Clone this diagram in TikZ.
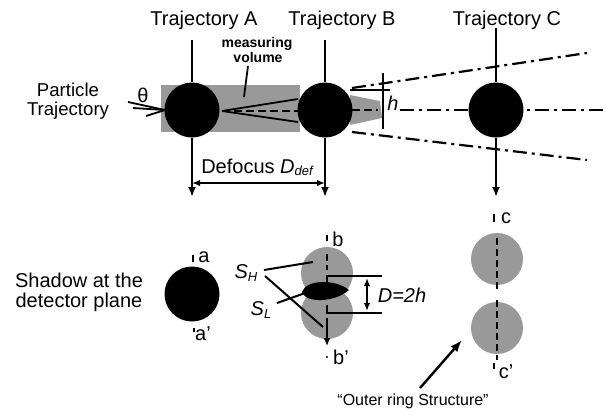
\documentclass[tikz,border=0pt]{standalone}
\usepackage{fontspec}
\setmainfont{Liberation Sans}
\usetikzlibrary{arrows.meta}
\begin{document}
\begin{tikzpicture}[x=0.5pt,y=-0.5pt,
  ax/.style={line width=1pt},
  axarrow/.style={line width=1pt,-{Latex[length=5pt,width=4pt]}},
  dim/.style={line width=0.9pt,{Latex[length=4pt,width=3.2pt]}-{Latex[length=4pt,width=3.2pt]}},
  ball/.style={circle,fill=black,inner sep=0pt,minimum size=27.5pt},
  halo/.style={fill=black!40},
  dashdot/.style={line width=1.1pt,dash pattern=on 7pt off 2.5pt on 1.5pt off 2.5pt},
  shadowaxis/.style={line width=1.4pt,dash pattern=on 3.5pt off 2pt},
  ray/.style={line width=0.9pt},
  big/.style={font=\fontsize{10}{11}\selectfont,inner sep=0pt},
  mid/.style={font=\fontsize{9.3}{10}\selectfont,inner sep=0pt},
  small/.style={font=\fontsize{8}{9}\selectfont,inner sep=0pt},
  tiny/.style={font=\bfseries\fontsize{7}{8}\selectfont,inner sep=0pt},
  tick/.style={line width=0.8pt},
]
\useasboundingbox (0,0) rectangle (605,413);

% ---------- measuring volume (dotted band) ----------
\fill[halo] (161,85) rectangle (300,132);
\fill[halo] (350,95) -- (380,101) -- (382,118) -- (350,125) -- cycle;

% ---------- incoming particle rays ----------
\coordinate (inA) at (165,110);
\draw[ray] (128,102) -- (inA);
\draw[ray] (133,108) -- (inA);
\draw[ray] (146,116) -- (inA);

% ---------- rays between A and B ----------
\coordinate (outA) at (222,111);
\draw[ray] (outA) -- (298,99);
\draw[ray,dash pattern=on 4pt off 2pt] (outA) -- (298,111);
\draw[ray] (outA) -- (298,122);
\draw[ray,dash pattern=on 4pt off 2pt] (352,110) -- (378,110);

% ---------- particles on the three trajectories ----------
\node[ball] (A) at (192,110) {};
\node[ball] (B) at (325,110) {};
\node[ball] (C) at (496,110) {};

% ---------- spreading beam beyond B ----------
\coordinate (bt) at (352,88);
\coordinate (bb) at (352,132);
\draw[dashdot] (bt) -- (587,53);
\draw[dashdot] (bb) -- (587,160);
\draw[dashdot] (400,110) -- (605,110);
\draw[ax] (350,90) -- (390,90);
\draw[ax] (383,73) -- (383,129);
\node[big,font=\fontsize{10}{11}\selectfont\itshape] (h) at (393,103) {h};

% ---------- trajectory axes ----------
\node[big,anchor=base] (tA) at (204,25) {Trajectory A};
\node[big,anchor=base] (tB) at (342,25) {Trajectory B};
\node[big,anchor=base] (tC) at (507,25) {Trajectory C};
\draw[ax] (192,40) -- (A.north);
\draw[axarrow] (A.south) -- (192,197);
\draw[ax] (325,40) -- (B.north);
\draw[axarrow] (B.south) -- (325,197);
\draw[ax] (496,28) -- (C.north);
\draw[axarrow] (C.south) -- (496,197);

% ---------- labels of the upper part ----------
\node[mid,anchor=base] (p1) at (68,96) {Particle};
\node[mid,anchor=base] (p2) at (68,115) {Trajectory};
\node[big] (theta) at (143,95) {θ};
\node[tiny,anchor=base] (mv1) at (257,47) {measuring};
\node[tiny,anchor=base] (mv2) at (258,62) {volume};
\draw[ray] (248,66) -- (244,97);

\draw[dim] (192,183) -- (325,183);
\node[big,anchor=base] (def) at (257,173)
  {Defocus \textit{D}\raisebox{-0.2ex}{\fontsize{6.5}{7}\selectfont\itshape def}};

% ---------- shadows at the detector plane ----------
\node[big,anchor=base] (s1) at (79,287) {Shadow at the};
\node[big,anchor=base] (s2) at (79,307) {detector plane};

% shadow of A
\node[ball] (sa) at (192,294) {};
\draw[tick] (193,255) -- (193,262);
\node[big] (la) at (204,257) {a};
\draw[tick] (194,328) -- (194,332);
\node[big] (la2) at (203,334) {a'};

% shadow of B
\fill[halo] (327,273) circle[radius=26];
\fill[halo] (327,313) circle[radius=26];
\fill[black] (302,292) .. controls (306,279) and (336,279) .. (349,290)
             .. controls (336,302) and (306,304) .. (302,292) -- cycle;
\draw[tick] (327,235) -- (327,241);
\node[big] (lb) at (338,239) {b};
\draw[shadowaxis] (327,254) -- (327,270);
\draw[line width=1.1pt,-{Latex[length=4pt,width=3.5pt]}] (327,318) -- (327,346);
\fill (327,357) circle[radius=1.2];
\node[big] (lb2) at (341,357) {b'};
\coordinate (dt) at (327,276);
\coordinate (db) at (327,313);
\draw[ax] (327,284) -- (dt) -- (382,276);
\draw[ax] (327,305) -- (db) -- (382,313);
\draw[dim] (367,278) -- (367,311);
\node[big] (D2h) at (402,295) {\textit{D=2h}};

\node[big] (SH) at (246,273) {\textit{S\raisebox{-0.25ex}{\fontsize{6.5}{7}\selectfont H}}};
\node[big] (SL) at (261,310) {\textit{S\raisebox{-0.25ex}{\fontsize{6.5}{7}\selectfont L}}};
\draw[ax] (264,270) -- (313,262);
\draw[ax] (265,276) -- (323,327);
\draw[ax] (277,303) -- (308,292);

% shadows of C
\fill[halo] (497,259) circle[radius=26];
\fill[halo] (497,328) circle[radius=26];
\draw[tick] (494,214) -- (494,222);
\node[big] (lc) at (506,218) {c};
\draw[shadowaxis] (497,238) -- (497,290);
\draw[shadowaxis] (497,300) -- (497,360);
\draw[tick] (494,363) -- (494,369);
\node[big] (lc2) at (506,372) {c'};

\node[small] (ring) at (413,401) {“Outer ring Structure”};
\draw[line width=1.2pt,-{Latex[length=6pt,width=4.5pt]}] (420,388) -- (462,340);
\end{tikzpicture}
\end{document}
